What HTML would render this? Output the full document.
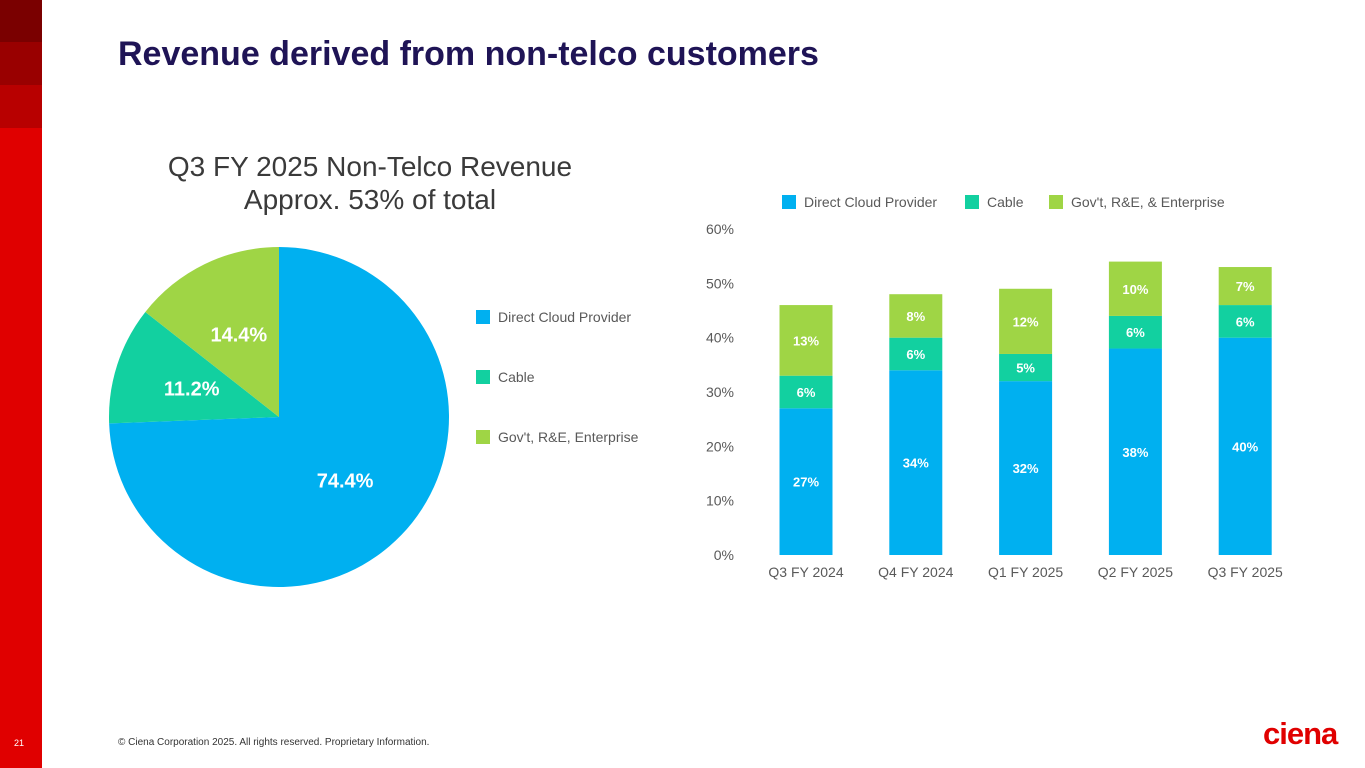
<!DOCTYPE html>
<html><head><meta charset="utf-8">
<style>
body{margin:0;width:1365px;height:768px;position:relative;background:#fff;font-family:"Liberation Sans",Arial,sans-serif;overflow:hidden}
.strip{position:absolute;left:0;width:42px}
</style></head><body>
<div class="strip" style="top:0;height:768px;background:#e00000"></div>
<div class="strip" style="top:0;height:42px;background:#7a0000"></div>
<div class="strip" style="top:42px;height:43px;background:#990000"></div>
<div class="strip" style="top:85px;height:43px;background:#b80000"></div>
<div style="position:absolute;left:118px;top:35px;font-size:34px;font-weight:bold;color:#1f1456">Revenue derived from non-telco customers</div>
<div style="position:absolute;left:120px;top:150px;width:500px;text-align:center;font-size:28px;color:#3a3a3a;line-height:33px">Q3 FY 2025 Non-Telco Revenue<br>Approx. 53% of total</div>
<div style="position:absolute;left:14px;top:738px;font-size:9px;color:#fff">21</div>
<div style="position:absolute;left:118px;top:737px;font-size:10px;color:#333">© Ciena Corporation 2025. All rights reserved. Proprietary Information.</div>
<div style="position:absolute;left:1263px;top:716px;font-size:31px;font-weight:bold;color:#e00000;letter-spacing:-1px">ciena</div>
<svg id="svg" width="1365" height="768" style="position:absolute;left:0;top:0" font-family="Liberation Sans, Arial, sans-serif"></svg>
<script>
const pieLabels=["Direct Cloud Provider","Cable","Gov't, R&E, Enterprise"];
const pieValues=[74.4,11.2,14.4];
const colors=["#00b0f0","#12d0a0","#9fd545"];
const categories=["Q3 FY 2024","Q4 FY 2024","Q1 FY 2025","Q2 FY 2025","Q3 FY 2025"];
const cloud=[27,34,32,38,40];
const cable=[6,6,5,6,6];
const gov=[13,8,12,10,7];
const yTicks=[0,10,20,30,40,50,60];
const barLegend=["Direct Cloud Provider","Cable","Gov't, R&E, & Enterprise"];
const svg=document.getElementById('svg');
const NS='http://www.w3.org/2000/svg';
function mk(t,a,p){const e=document.createElementNS(NS,t);for(const k in a)e.setAttribute(k,a[k]);(p||svg).appendChild(e);return e;}
// pie
const cx=279,cy=417,r=170;
let ang=0;const tot=pieValues.reduce((a,b)=>a+b,0);
pieValues.forEach((v,i)=>{
 const a0=ang,a1=ang+v/tot*2*Math.PI;ang=a1;
 const x0=cx+r*Math.sin(a0),y0=cy-r*Math.cos(a0),x1=cx+r*Math.sin(a1),y1=cy-r*Math.cos(a1);
 const p=mk('path',{d:`M${cx},${cy}L${x0},${y0}A${r},${r} 0 ${a1-a0>Math.PI?1:0} 1 ${x1},${y1}Z`,fill:colors[i]});
 
 
 const m=(a0+a1)/2,lr=r*0.54;
 const t=mk('text',{x:cx+lr*Math.sin(m),y:cy-lr*Math.cos(m)+7,'text-anchor':'middle','font-size':20,'font-weight':'bold',fill:'#fff'});
 t.textContent=v.toFixed(1)+'%';
 
 
 const sq=mk('rect',{x:476,y:310+i*60,width:14,height:14,fill:colors[i]});
 
 
 const lt=mk('text',{x:498,y:322+i*60,'font-size':14,fill:'#595959'});
 lt.textContent=pieLabels[i];
 
 
});
// bars
const y0=555,yTop=229,yMax=60;
const Y=v=>y0-(v/yMax)*(y0-yTop);
const X=i=>806+i*109.8;
yTicks.forEach(t=>{const e=mk('text',{x:734,y:Y(t)+5,'text-anchor':'end','font-size':14,fill:'#595959'});e.textContent=t+'%';
 
 });
const lx=[782,965,1049];
barLegend.forEach((l,i)=>{const s=mk('rect',{x:lx[i],y:195,width:14,height:14,fill:colors[i]});
 
 
 const t=mk('text',{x:lx[i]+22,y:207,'font-size':14,fill:'#595959'});t.textContent=l;
 
 });
categories.forEach((c,i)=>{
 const series=[cloud[i],cable[i],gov[i]];let base=0;
 series.forEach((v,j)=>{
  const yt=Y(base+v),yb=Y(base);
  const b=mk('rect',{x:X(i)-26.5,y:yt,width:53,height:yb-yt,fill:colors[j]});
  
  
  const ty=(yt+yb)/2;
  const t=mk('text',{x:X(i),y:ty+5,'text-anchor':'middle','font-size':13,'font-weight':'bold',fill:'#fff'});
  t.textContent=v+'%';
  
  
  base+=v;
 });
 const t=mk('text',{x:X(i),y:577,'text-anchor':'middle','font-size':14,fill:'#595959'});t.textContent=c;
 
 
});
</script>
</body></html>
